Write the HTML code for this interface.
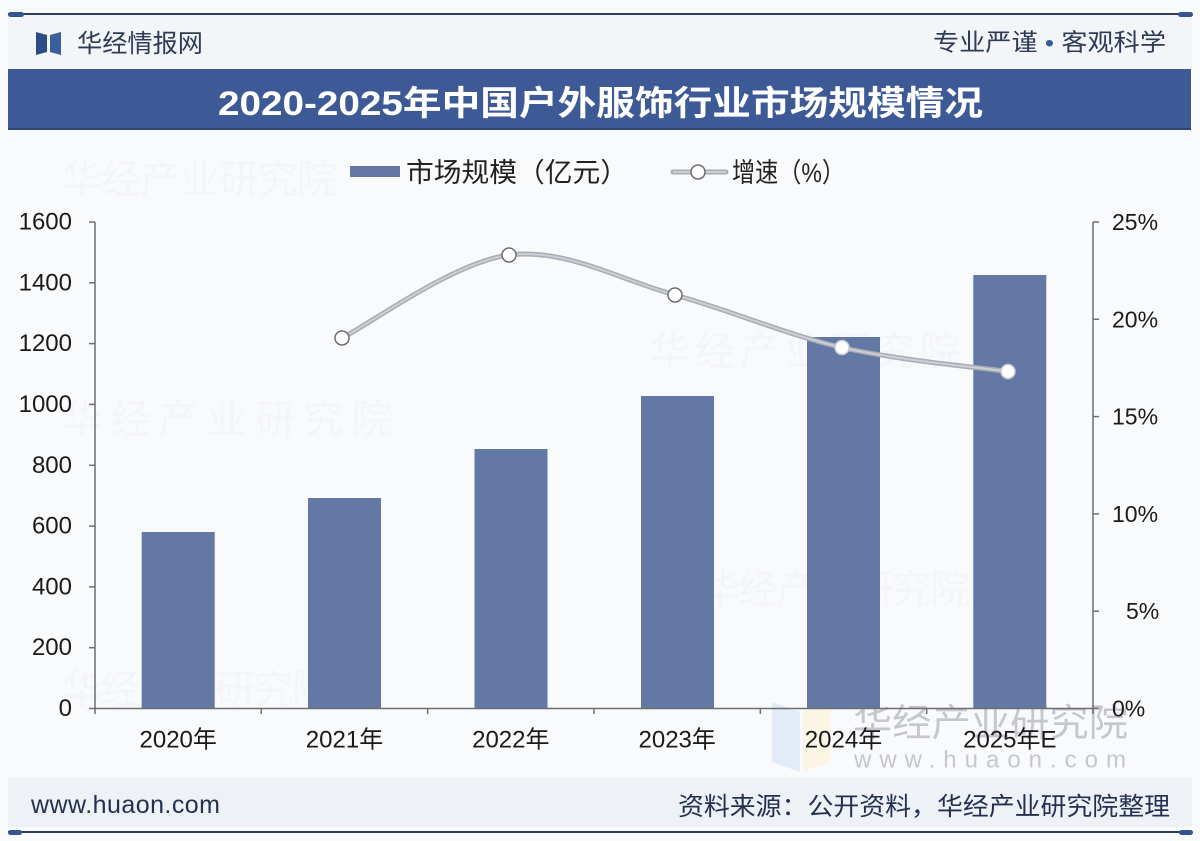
<!DOCTYPE html>
<html>
<head>
<meta charset="utf-8">
<style>
  html, body { margin: 0; padding: 0; background: #f8f9fb; }
  svg { display: block; }
  text { font-family: "Liberation Sans", "Noto Sans CJK SC", sans-serif; }
</style>
</head>
<body>
<svg width="1200" height="841" viewBox="0 0 1200 841" xmlns="http://www.w3.org/2000/svg">
  <!-- backgrounds -->
  <rect x="0" y="0" width="1200" height="841" fill="#f9fafc"/>
  <rect x="8" y="15" width="1184" height="54" fill="#f3f5f9"/>
  <rect x="8" y="778" width="1184" height="49" fill="#eef1f6"/>

  <!-- faint watermarks -->
  <g fill="#7a8aa8" opacity="0.035" font-size="40">
    <text x="62" y="180" dominant-baseline="central" textLength="275">华经产业研究院</text>
    <text x="650" y="352" dominant-baseline="central" textLength="310">华经产业研究院</text>
    <text x="62" y="420" dominant-baseline="central" textLength="330">华经产业研究院</text>
    <text x="700" y="590" dominant-baseline="central" textLength="270">华经产业研究院</text>
    <text x="62" y="690" dominant-baseline="central" textLength="270">华经产业研究院</text>
  </g>
  <polygon points="772,702 800,712 800,772 772,762" fill="#e3ebf6"/>
  <polygon points="803,712 830,702 830,762 803,772" fill="#fbf5e3"/>
  <text x="853" y="724" dominant-baseline="central" font-size="38" fill="#c6c7cc" textLength="275" lengthAdjust="spacingAndGlyphs">华经产业研究院</text>
  <text x="854" y="760" dominant-baseline="central" font-size="24" fill="#c6c7cc" textLength="272">www.huaon.com</text>

  <!-- header line -->
  <line x1="8" y1="14" x2="1192" y2="14" stroke="#2d3d5a" stroke-width="2"/>
  <rect x="8" y="12" width="16" height="5" rx="2.5" fill="#34558f"/>
  <rect x="1178" y="12" width="15" height="5" rx="2.5" fill="#34558f"/>

  <!-- logo -->
  <polygon points="36,32 47,35 47,52 36,55" fill="#2b4c86"/>
  <polygon points="50,35 61,32 61,55 50,52" fill="#3b5e9d"/>
  <text x="77" y="44" dominant-baseline="central" font-size="25" fill="#2f3a55" textLength="126" lengthAdjust="spacingAndGlyphs">华经情报网</text>
  <text x="933" y="43" dominant-baseline="central" font-size="24" fill="#2f3a55" textLength="233" lengthAdjust="spacingAndGlyphs">专业严谨 <tspan fill="#3a5a98">•</tspan> 客观科学</text>

  <!-- title band -->
  <rect x="8" y="69" width="1183" height="61" fill="#3d5a97"/>
  <rect x="8" y="128" width="1183" height="2" fill="#2e4678"/>
  <text x="218" y="104" dominant-baseline="central" font-size="34" font-weight="bold" fill="#ffffff" textLength="765" lengthAdjust="spacingAndGlyphs">2020-2025年中国户外服饰行业市场规模情况</text>

  <!-- legend -->
  <rect x="350" y="166" width="50" height="11" fill="#6378a4"/>
  <text x="406" y="173" dominant-baseline="central" font-size="27" fill="#222" textLength="222" lengthAdjust="spacingAndGlyphs">市场规模（亿元）</text>
  <line x1="673" y1="172" x2="726" y2="172" stroke="#a9acb2" stroke-width="5" stroke-linecap="round"/>
  <line x1="673" y1="172" x2="726" y2="172" stroke="#cbced4" stroke-width="2"/>
  <circle cx="698" cy="172" r="7" fill="#fff" stroke="#6e6e72" stroke-width="1.5"/>
  <text x="732" y="173" dominant-baseline="central" font-size="27" fill="#222" textLength="113" lengthAdjust="spacingAndGlyphs">增速（%）</text>

  <!-- bars -->
  <g fill="#6378a4">
    <rect x="141.7" y="532" width="73" height="176.5"/>
    <rect x="308" y="498" width="73" height="210.5"/>
    <rect x="474.5" y="449" width="73" height="259.5"/>
    <rect x="641" y="396" width="73" height="312.5"/>
    <rect x="807" y="337" width="73" height="371.5"/>
    <rect x="973.3" y="275" width="73" height="433.5"/>
  </g>

  <!-- axes -->
  <g stroke="#6e6e6e" stroke-width="1.5" fill="none">
    <line x1="95" y1="222" x2="95" y2="709"/>
    <line x1="1093" y1="222" x2="1093" y2="709"/>
    <line x1="89" y1="708.5" x2="1093" y2="708.5"/>
    <line x1="89" y1="222" x2="95" y2="222"/>
    <line x1="89" y1="282.8" x2="95" y2="282.8"/>
    <line x1="89" y1="343.6" x2="95" y2="343.6"/>
    <line x1="89" y1="404.4" x2="95" y2="404.4"/>
    <line x1="89" y1="465.3" x2="95" y2="465.3"/>
    <line x1="89" y1="526.1" x2="95" y2="526.1"/>
    <line x1="89" y1="586.9" x2="95" y2="586.9"/>
    <line x1="89" y1="647.7" x2="95" y2="647.7"/>
    <line x1="1093" y1="222" x2="1099" y2="222"/>
    <line x1="1093" y1="319.3" x2="1099" y2="319.3"/>
    <line x1="1093" y1="416.6" x2="1099" y2="416.6"/>
    <line x1="1093" y1="513.9" x2="1099" y2="513.9"/>
    <line x1="1093" y1="611.2" x2="1099" y2="611.2"/>
    <line x1="1093" y1="708.5" x2="1099" y2="708.5"/>
    <line x1="95" y1="708.5" x2="95" y2="714"/>
    <line x1="261.3" y1="708.5" x2="261.3" y2="714"/>
    <line x1="427.7" y1="708.5" x2="427.7" y2="714"/>
    <line x1="594" y1="708.5" x2="594" y2="714"/>
    <line x1="760.3" y1="708.5" x2="760.3" y2="714"/>
    <line x1="926.7" y1="708.5" x2="926.7" y2="714"/>
    <line x1="1093" y1="708.5" x2="1093" y2="714"/>
  </g>

  <!-- left labels -->
  <g font-size="24" fill="#1a1a1a" text-anchor="end">
    <text x="72" y="222" dominant-baseline="central">1600</text>
    <text x="72" y="282.8" dominant-baseline="central">1400</text>
    <text x="72" y="343.6" dominant-baseline="central">1200</text>
    <text x="72" y="404.4" dominant-baseline="central">1000</text>
    <text x="72" y="465.3" dominant-baseline="central">800</text>
    <text x="72" y="526.1" dominant-baseline="central">600</text>
    <text x="72" y="586.9" dominant-baseline="central">400</text>
    <text x="72" y="647.7" dominant-baseline="central">200</text>
    <text x="72" y="708.5" dominant-baseline="central">0</text>
  </g>

  <!-- right labels -->
  <g font-size="23" fill="#1a1a1a">
    <text x="1112" y="222" dominant-baseline="central">25%</text>
    <text x="1112" y="319.3" dominant-baseline="central">20%</text>
    <text x="1112" y="416.6" dominant-baseline="central">15%</text>
    <text x="1112" y="513.9" dominant-baseline="central">10%</text>
    <text x="1126" y="611.2" dominant-baseline="central">5%</text>
    <text x="1112" y="708.5" dominant-baseline="central">0%</text>
  </g>

  <!-- x labels -->
  <g font-size="24" fill="#1a1a1a" text-anchor="middle">
    <text x="178.2" y="740" dominant-baseline="central">2020年</text>
    <text x="344.5" y="740" dominant-baseline="central">2021年</text>
    <text x="510.8" y="740" dominant-baseline="central">2022年</text>
    <text x="677.2" y="740" dominant-baseline="central">2023年</text>
    <text x="843.5" y="740" dominant-baseline="central">2024年</text>
    <text x="1009.8" y="740" dominant-baseline="central">2025年E</text>
  </g>

  <!-- growth line -->
  <path d="M342,338 C369.8,324.2 453.5,262.2 509,255 C564.5,247.8 619.5,279.6 675,295 C730.5,310.4 786.5,334.75 842,347.5 C897.5,360.25 980.3,367.5 1008,371.5"
        fill="none" stroke="#a9acb2" stroke-width="5" stroke-linecap="round"/>
  <path d="M342,338 C369.8,324.2 453.5,262.2 509,255 C564.5,247.8 619.5,279.6 675,295 C730.5,310.4 786.5,334.75 842,347.5 C897.5,360.25 980.3,367.5 1008,371.5"
        fill="none" stroke="#cbced4" stroke-width="2"/>
  <g fill="#ffffff" stroke="#6e6e72" stroke-width="1.5">
    <circle cx="342" cy="338" r="7"/>
    <circle cx="509" cy="255" r="7"/>
    <circle cx="675" cy="295" r="7"/>
  </g>
  <g fill="#ffffff" stroke="#c9cdd6" stroke-width="1.5">
    <circle cx="842" cy="347.5" r="7"/>
    <circle cx="1008" cy="371.5" r="7"/>
  </g>

  <!-- footer -->
  <text x="31" y="805" dominant-baseline="central" font-size="25" fill="#253050" textLength="189">www.huaon.com</text>
  <text x="678" y="807" dominant-baseline="central" font-size="25" fill="#253050" textLength="492" lengthAdjust="spacingAndGlyphs">资料来源：公开资料，华经产业研究院整理</text>
  <line x1="8" y1="832" x2="1192" y2="832" stroke="#2d3d5a" stroke-width="2"/>
  <rect x="8" y="830" width="14" height="5" rx="2.5" fill="#34558f"/>
  <rect x="1179" y="830" width="14" height="5" rx="2.5" fill="#34558f"/>
</svg>
</body>
</html>
